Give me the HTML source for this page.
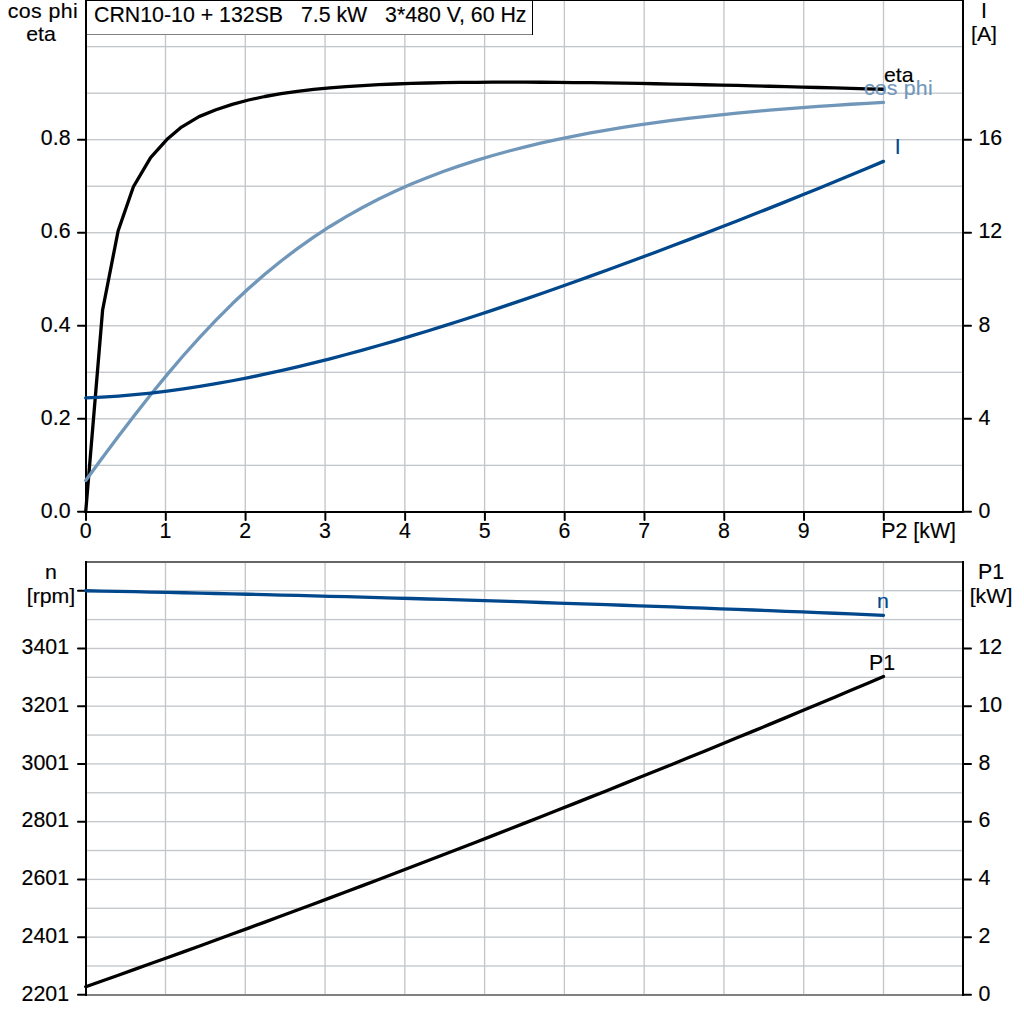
<!DOCTYPE html>
<html><head><meta charset="utf-8"><style>
html,body{margin:0;padding:0;background:#fff;overflow:hidden;}
svg{display:block;}
text{font-family:"Liberation Sans",sans-serif;font-size:21.33px;stroke-width:0.15px;}
</style></head><body>
<svg width="1024" height="1024" viewBox="0 0 1024 1024">
<rect x="0" y="0" width="1024" height="1024" fill="#fff"/>
<rect x="164.82" y="1" width="1.35" height="510" fill="#c3c7cb"/>
<rect x="244.60" y="1" width="1.35" height="510" fill="#c3c7cb"/>
<rect x="324.38" y="1" width="1.35" height="510" fill="#c3c7cb"/>
<rect x="404.16" y="1" width="1.35" height="510" fill="#c3c7cb"/>
<rect x="483.94" y="1" width="1.35" height="510" fill="#c3c7cb"/>
<rect x="563.71" y="1" width="1.35" height="510" fill="#c3c7cb"/>
<rect x="643.49" y="1" width="1.35" height="510" fill="#c3c7cb"/>
<rect x="723.27" y="1" width="1.35" height="510" fill="#c3c7cb"/>
<rect x="803.05" y="1" width="1.35" height="510" fill="#c3c7cb"/>
<rect x="882.83" y="1" width="1.35" height="510" fill="#c3c7cb"/>
<rect x="87" y="464.67" width="875" height="1.35" fill="#c3c7cb"/>
<rect x="87" y="418.15" width="875" height="1.35" fill="#c3c7cb"/>
<rect x="87" y="371.63" width="875" height="1.35" fill="#c3c7cb"/>
<rect x="87" y="325.11" width="875" height="1.35" fill="#c3c7cb"/>
<rect x="87" y="278.58" width="875" height="1.35" fill="#c3c7cb"/>
<rect x="87" y="232.06" width="875" height="1.35" fill="#c3c7cb"/>
<rect x="87" y="185.54" width="875" height="1.35" fill="#c3c7cb"/>
<rect x="87" y="139.02" width="875" height="1.35" fill="#c3c7cb"/>
<rect x="87" y="92.50" width="875" height="1.35" fill="#c3c7cb"/>
<rect x="87" y="45.97" width="875" height="1.35" fill="#c3c7cb"/>
<rect x="87" y="1" width="445" height="33" fill="#fff"/>
<rect x="87" y="34" width="446" height="1" fill="#808080"/>
<rect x="532" y="1" width="1" height="34" fill="#000"/>
<rect x="85" y="0" width="879" height="1" fill="#000"/>
<rect x="164.82" y="563" width="1.35" height="431" fill="#c3c7cb"/>
<rect x="244.60" y="563" width="1.35" height="431" fill="#c3c7cb"/>
<rect x="324.38" y="563" width="1.35" height="431" fill="#c3c7cb"/>
<rect x="404.16" y="563" width="1.35" height="431" fill="#c3c7cb"/>
<rect x="483.94" y="563" width="1.35" height="431" fill="#c3c7cb"/>
<rect x="563.71" y="563" width="1.35" height="431" fill="#c3c7cb"/>
<rect x="643.49" y="563" width="1.35" height="431" fill="#c3c7cb"/>
<rect x="723.27" y="563" width="1.35" height="431" fill="#c3c7cb"/>
<rect x="803.05" y="563" width="1.35" height="431" fill="#c3c7cb"/>
<rect x="882.83" y="563" width="1.35" height="431" fill="#c3c7cb"/>
<rect x="87" y="965.33" width="875" height="1.35" fill="#c3c7cb"/>
<rect x="87" y="936.46" width="875" height="1.35" fill="#c3c7cb"/>
<rect x="87" y="907.59" width="875" height="1.35" fill="#c3c7cb"/>
<rect x="87" y="878.72" width="875" height="1.35" fill="#c3c7cb"/>
<rect x="87" y="849.85" width="875" height="1.35" fill="#c3c7cb"/>
<rect x="87" y="820.98" width="875" height="1.35" fill="#c3c7cb"/>
<rect x="87" y="792.11" width="875" height="1.35" fill="#c3c7cb"/>
<rect x="87" y="763.24" width="875" height="1.35" fill="#c3c7cb"/>
<rect x="87" y="734.37" width="875" height="1.35" fill="#c3c7cb"/>
<rect x="87" y="705.51" width="875" height="1.35" fill="#c3c7cb"/>
<rect x="87" y="676.64" width="875" height="1.35" fill="#c3c7cb"/>
<rect x="87" y="647.77" width="875" height="1.35" fill="#c3c7cb"/>
<rect x="87" y="618.90" width="875" height="1.35" fill="#c3c7cb"/>
<rect x="87" y="590.03" width="875" height="1.35" fill="#c3c7cb"/>
<rect x="86" y="561" width="877" height="2" fill="#666"/>
<rect x="86" y="994" width="877" height="2" fill="#808080"/>
<rect x="85" y="0" width="2" height="513" fill="#000"/>
<rect x="962" y="0" width="2" height="513" fill="#000"/>
<rect x="85" y="511" width="879" height="2" fill="#000"/>
<line x1="78" y1="511.87" x2="86" y2="511.87" stroke="#000" stroke-width="2" stroke-linecap="round"/>
<line x1="963" y1="511.87" x2="971" y2="511.87" stroke="#000" stroke-width="2" stroke-linecap="round"/>
<line x1="78" y1="418.83" x2="86" y2="418.83" stroke="#000" stroke-width="2" stroke-linecap="round"/>
<line x1="963" y1="418.83" x2="971" y2="418.83" stroke="#000" stroke-width="2" stroke-linecap="round"/>
<line x1="78" y1="325.78" x2="86" y2="325.78" stroke="#000" stroke-width="2" stroke-linecap="round"/>
<line x1="963" y1="325.78" x2="971" y2="325.78" stroke="#000" stroke-width="2" stroke-linecap="round"/>
<line x1="78" y1="232.74" x2="86" y2="232.74" stroke="#000" stroke-width="2" stroke-linecap="round"/>
<line x1="963" y1="232.74" x2="971" y2="232.74" stroke="#000" stroke-width="2" stroke-linecap="round"/>
<line x1="78" y1="139.69" x2="86" y2="139.69" stroke="#000" stroke-width="2" stroke-linecap="round"/>
<line x1="963" y1="139.69" x2="971" y2="139.69" stroke="#000" stroke-width="2" stroke-linecap="round"/>
<line x1="86.02" y1="512" x2="86.02" y2="520" stroke="#000" stroke-width="2" stroke-linecap="round"/>
<line x1="165.80" y1="512" x2="165.80" y2="520" stroke="#000" stroke-width="2" stroke-linecap="round"/>
<line x1="245.58" y1="512" x2="245.58" y2="520" stroke="#000" stroke-width="2" stroke-linecap="round"/>
<line x1="325.35" y1="512" x2="325.35" y2="520" stroke="#000" stroke-width="2" stroke-linecap="round"/>
<line x1="405.13" y1="512" x2="405.13" y2="520" stroke="#000" stroke-width="2" stroke-linecap="round"/>
<line x1="484.91" y1="512" x2="484.91" y2="520" stroke="#000" stroke-width="2" stroke-linecap="round"/>
<line x1="564.69" y1="512" x2="564.69" y2="520" stroke="#000" stroke-width="2" stroke-linecap="round"/>
<line x1="644.47" y1="512" x2="644.47" y2="520" stroke="#000" stroke-width="2" stroke-linecap="round"/>
<line x1="724.24" y1="512" x2="724.24" y2="520" stroke="#000" stroke-width="2" stroke-linecap="round"/>
<line x1="804.02" y1="512" x2="804.02" y2="520" stroke="#000" stroke-width="2" stroke-linecap="round"/>
<line x1="883.80" y1="512" x2="883.80" y2="520" stroke="#000" stroke-width="2" stroke-linecap="round"/>
<rect x="85" y="561" width="2" height="435" fill="#000"/>
<rect x="962" y="561" width="2" height="435" fill="#000"/>
<line x1="78" y1="994.87" x2="86" y2="994.87" stroke="#000" stroke-width="2" stroke-linecap="round"/>
<line x1="963" y1="994.87" x2="971" y2="994.87" stroke="#000" stroke-width="2" stroke-linecap="round"/>
<line x1="78" y1="937.13" x2="86" y2="937.13" stroke="#000" stroke-width="2" stroke-linecap="round"/>
<line x1="963" y1="937.13" x2="971" y2="937.13" stroke="#000" stroke-width="2" stroke-linecap="round"/>
<line x1="78" y1="879.39" x2="86" y2="879.39" stroke="#000" stroke-width="2" stroke-linecap="round"/>
<line x1="963" y1="879.39" x2="971" y2="879.39" stroke="#000" stroke-width="2" stroke-linecap="round"/>
<line x1="78" y1="821.66" x2="86" y2="821.66" stroke="#000" stroke-width="2" stroke-linecap="round"/>
<line x1="963" y1="821.66" x2="971" y2="821.66" stroke="#000" stroke-width="2" stroke-linecap="round"/>
<line x1="78" y1="763.92" x2="86" y2="763.92" stroke="#000" stroke-width="2" stroke-linecap="round"/>
<line x1="963" y1="763.92" x2="971" y2="763.92" stroke="#000" stroke-width="2" stroke-linecap="round"/>
<line x1="78" y1="706.18" x2="86" y2="706.18" stroke="#000" stroke-width="2" stroke-linecap="round"/>
<line x1="963" y1="706.18" x2="971" y2="706.18" stroke="#000" stroke-width="2" stroke-linecap="round"/>
<line x1="78" y1="648.44" x2="86" y2="648.44" stroke="#000" stroke-width="2" stroke-linecap="round"/>
<line x1="963" y1="648.44" x2="971" y2="648.44" stroke="#000" stroke-width="2" stroke-linecap="round"/>
<line x1="78" y1="590.70" x2="86" y2="590.70" stroke="#000" stroke-width="2" stroke-linecap="round"/>
<polyline points="85.70,512.00 102.60,310.00 118.10,231.00 133.40,186.75 150.60,157.60 166.80,139.60 181.50,127.10 199.00,116.60 215.97,109.79 232.25,104.33 248.53,99.99 264.81,96.50 281.09,93.67 297.38,91.36 313.66,89.46 329.94,87.90 346.22,86.61 362.50,85.56 378.78,84.70 395.06,84.00 411.34,83.45 427.63,83.01 443.91,82.68 460.19,82.45 476.47,82.29 492.75,82.19 509.03,82.17 525.31,82.19 541.59,82.26 557.88,82.38 574.16,82.53 590.44,82.72 606.72,82.94 623.00,83.18 639.28,83.45 655.56,83.75 671.84,84.06 688.13,84.39 704.41,84.73 720.69,85.09 736.97,85.47 753.25,85.85 769.53,86.25 785.81,86.66 802.09,87.07 818.38,87.49 834.66,87.92 850.94,88.36 867.22,88.80 883.50,89.25" fill="none" stroke="#000" stroke-width="3.3" stroke-linejoin="round" stroke-linecap="round"/>
<polyline points="85.72,480.48 102.00,458.35 118.28,436.55 134.56,415.23 150.84,394.54 167.13,374.59 183.41,355.49 199.69,337.29 215.97,320.06 232.25,303.81 248.53,288.56 264.81,274.30 281.09,260.99 297.38,248.61 313.66,237.12 329.94,226.47 346.22,216.61 362.50,207.49 378.78,199.06 395.06,191.27 411.34,184.08 427.63,177.43 443.91,171.28 460.19,165.61 476.47,160.36 492.75,155.50 509.03,151.00 525.31,146.83 541.59,142.97 557.88,139.39 574.16,136.06 590.44,132.97 606.72,130.09 623.00,127.42 639.28,124.93 655.56,122.61 671.84,120.45 688.13,118.43 704.41,116.55 720.69,114.79 736.97,113.14 753.25,111.61 769.53,110.17 785.81,108.82 802.09,107.57 818.38,106.39 834.66,105.28 850.94,104.25 867.22,103.28 883.50,102.37" fill="none" stroke="#7097ba" stroke-width="3.3" stroke-linejoin="round" stroke-linecap="round"/>
<polyline points="85.72,397.87 102.00,397.13 118.28,396.08 134.56,394.71 150.84,393.05 167.13,391.10 183.41,388.89 199.69,386.41 215.97,383.70 232.25,380.75 248.53,377.58 264.81,374.20 281.09,370.62 297.38,366.85 313.66,362.90 329.94,358.78 346.22,354.50 362.50,350.07 378.78,345.50 395.06,340.79 411.34,335.95 427.63,330.99 443.91,325.92 460.19,320.75 476.47,315.47 492.75,310.10 509.03,304.64 525.31,299.09 541.59,293.47 557.88,287.77 574.16,281.99 590.44,276.16 606.72,270.25 623.00,264.29 639.28,258.27 655.56,252.19 671.84,246.05 688.13,239.86 704.41,233.62 720.69,227.33 736.97,220.98 753.25,214.58 769.53,208.13 785.81,201.63 802.09,195.07 818.38,188.46 834.66,181.79 850.94,175.05 867.22,168.26 883.50,161.39" fill="none" stroke="#00478c" stroke-width="3.3" stroke-linejoin="round" stroke-linecap="round"/>
<polyline points="85.72,590.75 102.00,591.06 118.28,591.38 134.56,591.71 150.84,592.05 167.13,592.40 183.41,592.75 199.69,593.11 215.97,593.48 232.25,593.86 248.53,594.24 264.81,594.64 281.09,595.04 297.38,595.44 313.66,595.86 329.94,596.28 346.22,596.71 362.50,597.15 378.78,597.60 395.06,598.05 411.34,598.52 427.63,598.99 443.91,599.46 460.19,599.95 476.47,600.44 492.75,600.94 509.03,601.45 525.31,601.97 541.59,602.49 557.88,603.03 574.16,603.57 590.44,604.11 606.72,604.67 623.00,605.23 639.28,605.80 655.56,606.38 671.84,606.97 688.13,607.56 704.41,608.17 720.69,608.78 736.97,609.39 753.25,610.02 769.53,610.65 785.81,611.29 802.09,611.94 818.38,612.60 834.66,613.26 850.94,613.93 867.22,614.61 883.50,615.30" fill="none" stroke="#00478c" stroke-width="3.3" stroke-linejoin="round" stroke-linecap="round"/>
<polyline points="85.72,986.73 102.00,980.97 118.28,975.19 134.56,969.39 150.84,963.56 167.13,957.71 183.41,951.83 199.69,945.93 215.97,940.00 232.25,934.05 248.53,928.08 264.81,922.09 281.09,916.07 297.38,910.02 313.66,903.95 329.94,897.86 346.22,891.75 362.50,885.61 378.78,879.44 395.06,873.26 411.34,867.05 427.63,860.81 443.91,854.55 460.19,848.27 476.47,841.97 492.75,835.64 509.03,829.28 525.31,822.90 541.59,816.50 557.88,810.08 574.16,803.63 590.44,797.15 606.72,790.66 623.00,784.14 639.28,777.59 655.56,771.02 671.84,764.43 688.13,757.82 704.41,751.18 720.69,744.51 736.97,737.82 753.25,731.11 769.53,724.38 785.81,717.62 802.09,710.83 818.38,704.03 834.66,697.20 850.94,690.34 867.22,683.46 883.50,676.56" fill="none" stroke="#000" stroke-width="3.3" stroke-linejoin="round" stroke-linecap="round"/>
<text transform="translate(42.90,18.00) scale(1,0.91)" text-anchor="middle" fill="#000" stroke="#000" letter-spacing="0.4">cos phi</text>
<text transform="translate(41.00,41.00) scale(1,0.95)" text-anchor="middle" fill="#000" stroke="#000">eta</text>
<text x="94.00" y="22.00" text-anchor="start" fill="#000" stroke="#000">CRN10-10 + 132SB&#160;&#160; 7.5 kW&#160;&#160; 3*480 V, 60 Hz</text>
<text x="70.50" y="518.10" text-anchor="end" fill="#000" stroke="#000">0.0</text>
<text x="70.50" y="425.10" text-anchor="end" fill="#000" stroke="#000">0.2</text>
<text x="70.50" y="332.10" text-anchor="end" fill="#000" stroke="#000">0.4</text>
<text x="70.50" y="238.10" text-anchor="end" fill="#000" stroke="#000">0.6</text>
<text x="70.50" y="145.10" text-anchor="end" fill="#000" stroke="#000">0.8</text>
<text x="978.50" y="518.10" text-anchor="start" fill="#000" stroke="#000">0</text>
<text x="978.50" y="425.10" text-anchor="start" fill="#000" stroke="#000">4</text>
<text x="978.50" y="332.10" text-anchor="start" fill="#000" stroke="#000">8</text>
<text x="978.50" y="238.10" text-anchor="start" fill="#000" stroke="#000">12</text>
<text x="978.50" y="145.10" text-anchor="start" fill="#000" stroke="#000">16</text>
<text x="984.00" y="18.00" text-anchor="middle" fill="#000" stroke="#000">I</text>
<text transform="translate(984.00,40.60) scale(1,0.91)" text-anchor="middle" fill="#000" stroke="#000">[A]</text>
<text x="85.72" y="538.00" text-anchor="middle" fill="#000" stroke="#000">0</text>
<text x="165.50" y="538.00" text-anchor="middle" fill="#000" stroke="#000">1</text>
<text x="245.28" y="538.00" text-anchor="middle" fill="#000" stroke="#000">2</text>
<text x="325.05" y="538.00" text-anchor="middle" fill="#000" stroke="#000">3</text>
<text x="404.83" y="538.00" text-anchor="middle" fill="#000" stroke="#000">4</text>
<text x="484.61" y="538.00" text-anchor="middle" fill="#000" stroke="#000">5</text>
<text x="564.39" y="538.00" text-anchor="middle" fill="#000" stroke="#000">6</text>
<text x="644.17" y="538.00" text-anchor="middle" fill="#000" stroke="#000">7</text>
<text x="723.94" y="538.00" text-anchor="middle" fill="#000" stroke="#000">8</text>
<text x="803.72" y="538.00" text-anchor="middle" fill="#000" stroke="#000">9</text>
<text x="881.30" y="538.30" text-anchor="start" fill="#000" stroke="#000">P2 [kW]</text>
<text x="894.80" y="154.00" text-anchor="start" fill="#00478c" stroke="#00478c">I</text>
<text transform="translate(884.00,81.80) scale(1,0.95)" text-anchor="start" fill="#000" stroke="#000">eta</text>
<text transform="translate(863.90,94.50) scale(1,0.91)" text-anchor="start" fill="#7097ba" stroke="#7097ba" letter-spacing="0.2">cos phi</text>
<text transform="translate(51.00,579.00) scale(1,0.91)" text-anchor="middle" fill="#000" stroke="#000">n</text>
<text transform="translate(51.00,602.50) scale(1,0.91)" text-anchor="middle" fill="#000" stroke="#000">[rpm]</text>
<text x="69.00" y="654.10" text-anchor="end" fill="#000" stroke="#000">3401</text>
<text x="69.00" y="712.10" text-anchor="end" fill="#000" stroke="#000">3201</text>
<text x="69.00" y="770.10" text-anchor="end" fill="#000" stroke="#000">3001</text>
<text x="69.00" y="827.10" text-anchor="end" fill="#000" stroke="#000">2801</text>
<text x="69.00" y="885.10" text-anchor="end" fill="#000" stroke="#000">2601</text>
<text x="69.00" y="943.10" text-anchor="end" fill="#000" stroke="#000">2401</text>
<text x="69.00" y="1001.10" text-anchor="end" fill="#000" stroke="#000">2201</text>
<text x="991.00" y="579.00" text-anchor="middle" fill="#000" stroke="#000">P1</text>
<text transform="translate(991.00,602.50) scale(1,0.91)" text-anchor="middle" fill="#000" stroke="#000">[kW]</text>
<text x="978.50" y="654.10" text-anchor="start" fill="#000" stroke="#000">12</text>
<text x="978.50" y="712.10" text-anchor="start" fill="#000" stroke="#000">10</text>
<text x="978.50" y="770.10" text-anchor="start" fill="#000" stroke="#000">8</text>
<text x="978.50" y="827.10" text-anchor="start" fill="#000" stroke="#000">6</text>
<text x="978.50" y="885.10" text-anchor="start" fill="#000" stroke="#000">4</text>
<text x="978.50" y="943.10" text-anchor="start" fill="#000" stroke="#000">2</text>
<text x="978.50" y="1001.10" text-anchor="start" fill="#000" stroke="#000">0</text>
<text transform="translate(883.00,608.00) scale(1,0.91)" text-anchor="middle" fill="#00478c" stroke="#00478c">n</text>
<text x="882.00" y="669.50" text-anchor="middle" fill="#000" stroke="#000">P1</text>
</svg></body></html>
